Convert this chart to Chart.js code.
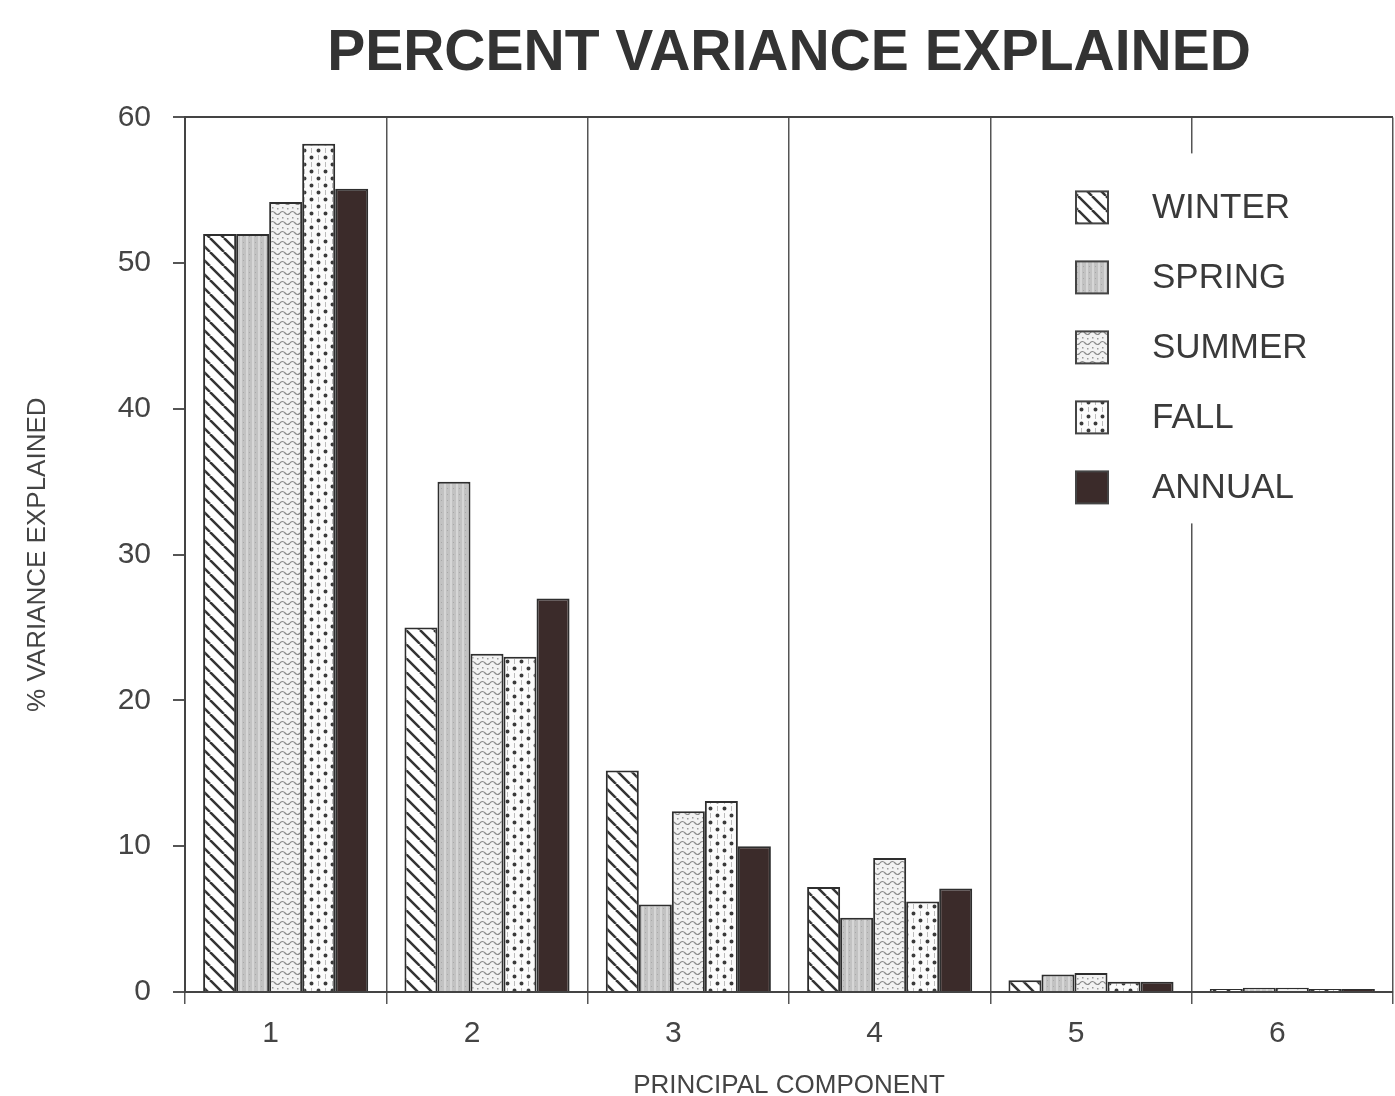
<!DOCTYPE html>
<html>
<head>
<meta charset="utf-8">
<title>Percent Variance Explained</title>
<script src="https://cdn.jsdelivr.net/npm/chart.js@4.4.1/dist/chart.umd.min.js"></script>
<style>
  html, body { margin: 0; padding: 0; background: #fff; }
  .wrap { position: relative; width: 1395px; height: 1096px; }
</style>
</head>
<body>
<div class="wrap"><canvas id="pcaChart"></canvas></div>
<script>
// valeurs (% de variance)
const components = ["1", "2", "3", "4", "5", "6"];
const winter = [52, 25, 15.2, 7.2, 0.8, 0.2];
const spring = [52, 35, 6, 5.1, 1.2, 0.3];
const summer = [54.2, 23.2, 12.4, 9.2, 1.3, 0.3];
const fall = [58.2, 23, 13.1, 6.2, 0.7, 0.2];
const annual = [55.1, 27, 10, 7.1, 0.7, 0.2];
const yTicks = [0, 10, 20, 30, 40, 50, 60];

Chart.defaults.font.family = "'Liberation Sans', Arial, sans-serif";

const canvas = document.getElementById("pcaChart");
const ctx = canvas.getContext("2d");

function makePattern(size, draw) {
    const c = document.createElement("canvas");
    c.width = size;
    c.height = size;
    draw(c.getContext("2d"), size);
    return ctx.createPattern(c, "repeat");
}

// hachures "\"
const winterFill = makePattern(14, (g, s) => {
    g.fillStyle = "#fff";
    g.fillRect(0, 0, s, s);
    g.strokeStyle = "#333";
    g.lineWidth = 2.5;
    for (let k = -1; k <= 1; k++) {
        g.beginPath();
        g.moveTo(k * s, 0);
        g.lineTo(k * s + s, s);
        g.stroke();
    }
});

// gris fin
const springFill = makePattern(6, (g, s) => {
    g.fillStyle = "#c2c2c2";
    g.fillRect(0, 0, s, s);
    g.fillStyle = "#d6d6d6";
    g.fillRect(0, 0, 2, s);
    g.fillStyle = "#a8a8a8";
    g.fillRect(3, 2, 1, 1);
});

// petites vagues claires
const summerFill = makePattern(10, (g, s) => {
    g.fillStyle = "#f2f2f2";
    g.fillRect(0, 0, s, s);
    g.strokeStyle = "#8a8a8a";
    g.lineWidth = 1.2;
    g.beginPath();
    g.moveTo(0, 3);
    g.quadraticCurveTo(2.5, 0, 5, 3);
    g.quadraticCurveTo(7.5, 6, 10, 3);
    g.stroke();
    g.fillStyle = "#999";
    g.fillRect(2, 7, 1.5, 1.5);
    g.fillRect(7, 8, 1.5, 1.5);
});

// points en quinconce
const fallFill = makePattern(14, (g, s) => {
    g.fillStyle = "#fbfbfb";
    g.fillRect(0, 0, s, s);
    g.fillStyle = "#3a3a3a";
    g.beginPath();
    g.arc(3.5, 3.5, 2, 0, Math.PI * 2);
    g.arc(10.5, 10.5, 2, 0, Math.PI * 2);
    g.fill();
    g.strokeStyle = "#bbb";
    g.lineWidth = 1;
    g.beginPath();
    g.moveTo(10.5, 1); g.lineTo(10.5, 6);
    g.moveTo(3.5, 8); g.lineTo(3.5, 13);
    g.stroke();
});

const annualFill = "#3b2b2a";

// légende dans la zone du graphique, fond blanc
const legendInside = {
    id: "legendInside",
    afterDatasetsDraw(chart) {
        const c = chart.ctx;
        const area = chart.chartArea;
        const boxX = area.right - 317;
        const firstY = area.top + 90;
        const step = 70;
        c.save();
        c.fillStyle = "#fff";
        c.fillRect(boxX - 14, area.top + 36, 262, 370);
        c.font = "35px 'Liberation Sans', Arial, sans-serif";
        c.textBaseline = "middle";
        chart.data.datasets.forEach((ds, i) => {
            const cy = firstY + i * step;
            c.fillStyle = ds.backgroundColor;
            c.fillRect(boxX, cy - 16, 32, 32);
            c.strokeStyle = "#444";
            c.lineWidth = 2;
            c.strokeRect(boxX, cy - 16, 32, 32);
            c.fillStyle = "#3a3a3a";
            c.fillText(ds.label, boxX + 76, cy + 1);
        });
        c.restore();
    }
};

function barSet(label, data, fill) {
    return {
        label: label,
        data: data,
        backgroundColor: fill,
        borderColor: "#2e2e2e",
        borderWidth: 2,
        categoryPercentage: 0.82,
        barPercentage: 1
    };
}

new Chart(ctx, {
    type: "bar",
    data: {
        labels: components,
        datasets: [
            barSet("WINTER", winter, winterFill),
            barSet("SPRING", spring, springFill),
            barSet("SUMMER", summer, summerFill),
            barSet("FALL", fall, fallFill),
            barSet("ANNUAL", annual, annualFill)
        ]
    },
    options: {
        responsive: true,
        maintainAspectRatio: false,
        animation: false,
        layout: { padding: { left: 0, right: 2, top: 0, bottom: 0 } },
        plugins: {
            legend: { display: false },
            tooltip: { enabled: false },
            title: {
                display: true,
                fullSize: false,
                text: "PERCENT VARIANCE EXPLAINED",
                color: "#333",
                font: { size: 57, weight: "bold" },
                padding: { top: 20, bottom: 29 }
            }
        },
        scales: {
            x: {
                grid: { offset: true, color: "#555", lineWidth: 1.5, tickLength: 12 },
                border: { color: "#444", width: 2 },
                ticks: { color: "#444", font: { size: 30 }, padding: 12, labelOffset: -15 },
                title: {
                    display: true,
                    text: "PRINCIPAL COMPONENT",
                    color: "#444",
                    font: { size: 26 },
                    padding: { top: 0, bottom: -5 }
                },
                afterFit: s => { s.height = 104; }
            },
            y: {
                min: 0,
                max: 60,
                afterBuildTicks: s => { s.ticks = yTicks.map(v => ({ value: v })); },
                grid: {
                    color: c => (c.tick && c.tick.value === 60 ? "#444" : "rgba(0,0,0,0)"),
                    tickColor: "#555",
                    tickLength: 12,
                    lineWidth: 2
                },
                border: { color: "#444", width: 2 },
                ticks: { color: "#444", font: { size: 30 }, padding: 22 },
                title: {
                    display: true,
                    text: "% VARIANCE EXPLAINED",
                    color: "#444",
                    font: { size: 26 },
                    padding: { top: 22, bottom: 0 }
                },
                afterFit: s => { s.width = 185; }
            }
        }
    },
    plugins: [legendInside]
});
</script>
</body>
</html>
